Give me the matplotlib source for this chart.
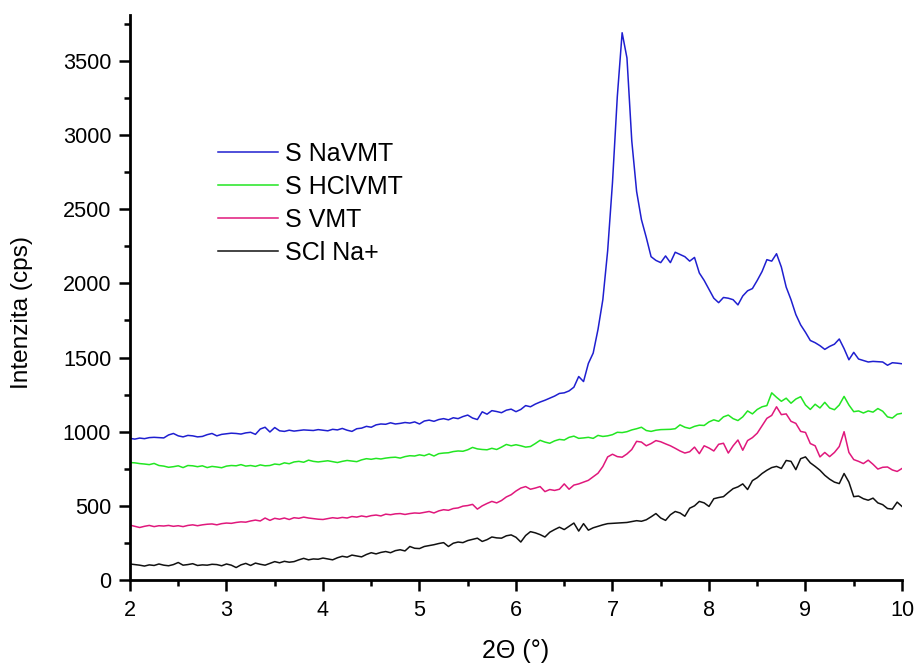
import numpy as np
import matplotlib
matplotlib.use("Agg")
import matplotlib.pyplot as plt
from matplotlib.ticker import MultipleLocator

plt.rcParams["font.family"] = ["Liberation Sans", "DejaVu Sans"]

# 2-theta scan from 2 to 10 degrees, 0.05 deg step
two_theta = np.round(np.arange(2.0, 10.0001, 0.05), 2)

s_navmt = [
    955, 950, 957, 953, 960, 962, 960, 958, 978, 988,
    972, 965, 975, 972, 965, 968, 980, 988, 972, 982,
    986, 990, 988, 984, 992, 996, 982, 1018, 1030, 998,
    1028, 1006, 1002, 1010, 1004, 1008, 1012, 1010, 1008, 1014,
    1010, 1006, 1016, 1012, 1022, 1010, 1002, 1020, 1024, 1036,
    1030, 1046, 1052, 1050, 1060, 1052, 1056, 1062, 1058, 1066,
    1052, 1072, 1078, 1070, 1082, 1088, 1080, 1094, 1088, 1102,
    1112, 1092, 1082, 1134, 1118, 1142, 1136, 1128, 1145, 1152,
    1135, 1150, 1176, 1168, 1186, 1200, 1212, 1226, 1240, 1258,
    1262, 1275, 1300, 1372, 1338, 1460, 1530, 1690, 1890, 2220,
    2680, 3260, 3690, 3520, 2960, 2620, 2430, 2310, 2180, 2155,
    2140, 2185, 2140, 2210, 2195, 2180, 2150, 2175, 2070, 2020,
    1960, 1900, 1870, 1905, 1900, 1890, 1855, 1915, 1950, 1965,
    2020, 2080, 2160, 2150, 2200, 2110, 1975, 1890, 1790, 1720,
    1670, 1615, 1600, 1580, 1555, 1575, 1590, 1625, 1560, 1485,
    1535, 1490, 1480, 1470, 1474, 1472, 1470, 1448, 1465, 1462,
    1458,
]

s_hclvmt = [
    792, 790, 785, 782, 778, 786, 772, 768, 760, 764,
    770, 758, 772, 770, 764, 770, 758, 766, 762, 757,
    768, 772, 770, 778, 768, 772, 766, 776, 770, 772,
    782, 778, 790, 784, 796, 800, 794, 808, 800, 796,
    800, 804, 798, 792, 800, 806, 802, 798, 810, 818,
    814, 820, 816, 822, 826, 828, 822, 832, 838, 836,
    844, 838, 850, 836, 852, 856, 858, 866, 870, 868,
    878, 894, 884, 880, 878, 888, 880, 896, 914, 905,
    912, 905, 896, 900, 920, 942, 930, 922, 938, 948,
    944, 962, 970, 955, 958, 962, 955, 975, 968, 972,
    980, 996, 994, 1000, 1012, 1020, 1030, 1008, 1002, 1010,
    1014, 1015, 1016, 1020, 1046, 1030, 1022, 1036, 1044, 1042,
    1066, 1080, 1070, 1100, 1112, 1088, 1075, 1100, 1140, 1120,
    1150, 1168, 1176, 1262, 1232, 1205, 1226, 1192, 1220, 1236,
    1180, 1150, 1185, 1160, 1198, 1160, 1148, 1180, 1238, 1180,
    1135, 1140, 1126, 1140, 1132, 1156, 1138, 1100, 1092, 1118,
    1124,
]

s_vmt = [
    370, 362, 354, 362, 368, 360, 366, 364, 368, 362,
    366, 360, 368, 372, 366, 372, 376, 378, 372, 380,
    384, 382, 388, 392, 390, 398, 404, 398, 418, 402,
    416, 410, 418, 408, 420, 416, 424, 418, 414, 410,
    408, 414, 420, 416, 422, 418, 428, 424, 432, 426,
    434, 438, 432, 444, 440, 446, 448, 442, 448, 452,
    450, 456, 462, 452, 466, 474, 470, 482, 486, 498,
    502, 510, 478, 500, 516, 530, 520, 536, 560, 575,
    600, 620, 630, 612, 620, 630, 596, 610, 604, 612,
    648, 612, 640, 648, 660, 672, 696, 720, 765, 830,
    848, 832, 828, 850, 880, 935, 930, 905, 920, 940,
    932, 918, 905, 888, 870, 856, 865, 896, 852, 905,
    890, 870, 915, 922, 856, 905, 944, 875, 940, 960,
    990, 1040, 1090, 1110, 1168, 1115, 1120, 1070, 1056, 1002,
    995, 920, 905, 830, 860, 832, 860, 900, 1000, 860,
    812, 800, 785, 808, 780, 748, 760, 762, 742, 732,
    752,
]

scl_na = [
    108, 104, 100, 94, 102, 98, 108, 100, 96, 104,
    118, 100, 104, 110, 98, 102, 100, 106, 104, 96,
    108, 100, 84, 102, 112, 98, 114, 106, 100, 112,
    124, 116, 126, 120, 124, 136, 146, 136, 142, 140,
    148, 142, 136, 150, 160, 154, 168, 162, 156, 172,
    184, 176, 186, 192, 184, 198, 204, 196, 226, 214,
    212, 226, 232, 238, 246, 252, 226, 248, 256, 252,
    266, 274, 282, 260, 272, 290, 284, 282, 298, 304,
    288, 256, 300, 326, 318, 306, 290, 322, 340, 356,
    340, 362, 384, 330, 380, 336, 352, 362, 372, 380,
    382, 384, 386, 388, 394, 400, 396, 406, 426, 448,
    418, 402, 440, 462, 452, 430, 484, 500, 530, 520,
    496, 548, 556, 562, 590, 616, 628, 648, 610, 670,
    690, 718, 740, 758, 766, 752, 806, 800, 744, 818,
    830, 790, 766, 740, 706, 680, 660, 650, 718, 660,
    562, 566, 548, 538, 552, 520, 508, 482, 478, 525,
    496,
]

series_labels = ["S NaVMT", "S HClVMT", "S VMT", "SCl Na+"]
series_values = [s_navmt, s_hclvmt, s_vmt, scl_na]
series_colors = ["#1f1fd0", "#22e622", "#e0187c", "#111111"]

fig = plt.figure(figsize=(9.16, 6.64), dpi=100)
ax = fig.add_axes([0.1419, 0.1265, 0.8428, 0.851])

for lab, vals, col in zip(series_labels, series_values, series_colors):
    ax.plot(two_theta, vals, color=col, lw=1.1, label=lab)

ax.set_xlim(2, 10)
ax.set_ylim(0, 3810)
ax.xaxis.set_major_locator(MultipleLocator(1))
ax.xaxis.set_minor_locator(MultipleLocator(0.5))
ax.yaxis.set_major_locator(MultipleLocator(500))
ax.yaxis.set_minor_locator(MultipleLocator(250))

for side in ("top", "right"):
    ax.spines[side].set_visible(False)
for side in ("left", "bottom"):
    ax.spines[side].set_linewidth(2.0)

ax.tick_params(which="major", direction="out", length=8, width=1.8,
               labelsize=15.6, pad=5.5)
ax.tick_params(which="minor", direction="out", length=4.5, width=1.8)
ax.tick_params(axis="x", which="major", pad=6.5)

ax.set_xlabel("2\u0398 (\u00b0)", fontsize=18, labelpad=13)
ax.set_ylabel("Intenzita (cps)", fontsize=17.6)
ax.yaxis.set_label_coords(-0.126, 0.4726)

leg = ax.legend(loc="upper left", bbox_to_anchor=(0.114, 0.775),
                frameon=False, fontsize=18, handlelength=2.4,
                handletextpad=0.28, labelspacing=0.36, borderpad=0,
                borderaxespad=0)
for line in leg.get_lines():
    line.set_linewidth(1.1)

fig.savefig("out.png", dpi=100)
